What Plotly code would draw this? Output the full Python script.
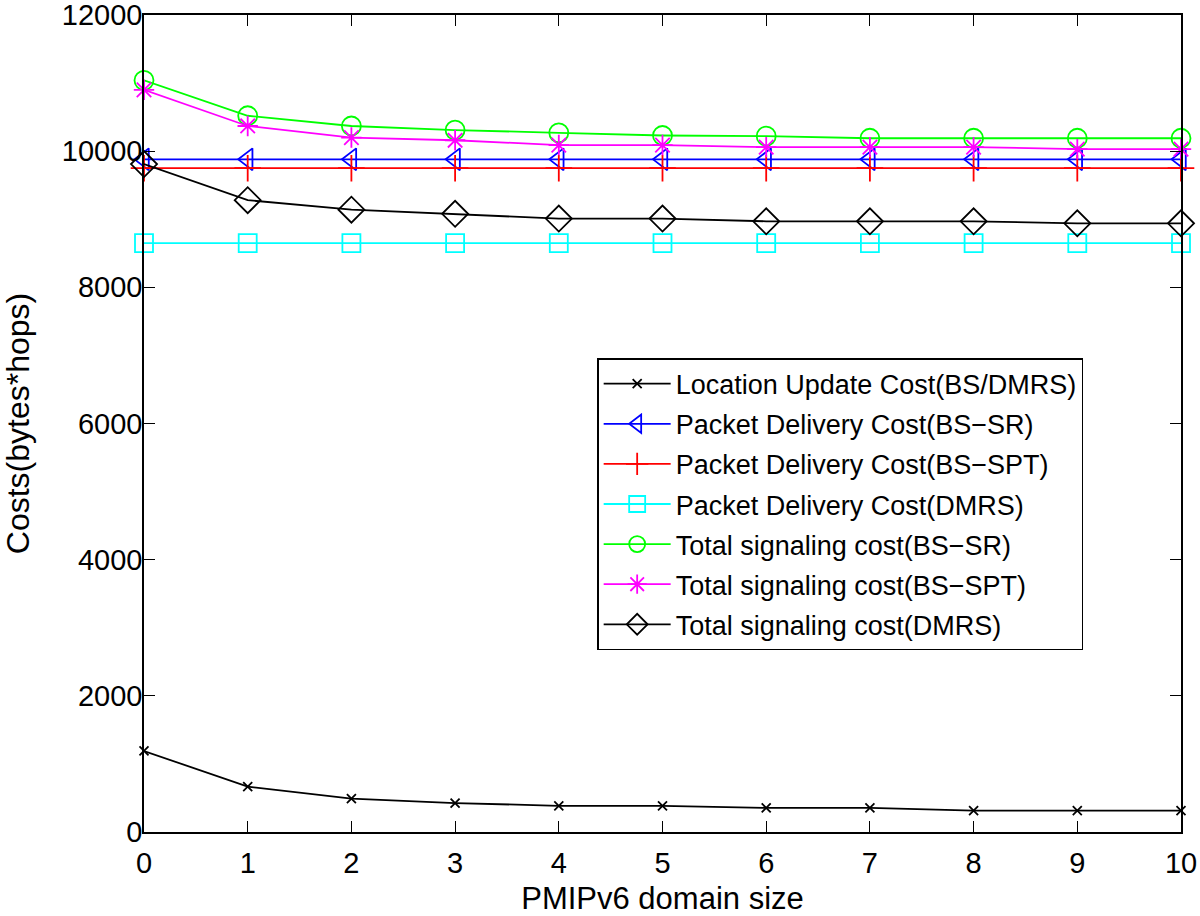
import plotly.graph_objects as go

# PMIPv6 domain size
domain_size = [0, 1, 2, 3, 4, 5, 6, 7, 8, 9, 10]

location_update = [1190, 665, 490, 425, 385, 385, 355, 355, 315, 315, 315]
pd_bs_sr = [9880] * 11
pd_bs_spt = [9750] * 11
pd_dmrs = [8650] * 11
total_bs_sr = [11040, 10520, 10370, 10310, 10270, 10230, 10220, 10190, 10190, 10190, 10190]
total_bs_spt = [10900, 10370, 10200, 10160, 10090, 10090, 10060, 10060, 10060, 10030, 10030]
total_dmrs = [9810, 9280, 9140, 9080, 9010, 9010, 8970, 8970, 8970, 8940, 8940]

series = [
    ("Location Update Cost(BS/DMRS)", location_update, "black", "x-thin-open", 9),
    ("Packet Delivery Cost(BS\u2212SR)", pd_bs_sr, "#0000ff", "triangle-left-open", 19),
    ("Packet Delivery Cost(BS\u2212SPT)", pd_bs_spt, "#ff0000", "cross-thin-open", 19),
    ("Packet Delivery Cost(DMRS)", pd_dmrs, "#00ffff", "square-open", 18),
    ("Total signaling cost(BS\u2212SR)", total_bs_sr, "#00ff00", "circle-open", 19),
    ("Total signaling cost(BS\u2212SPT)", total_bs_spt, "#ff00ff", "asterisk-open", 17),
    ("Total signaling cost(DMRS)", total_dmrs, "black", "diamond-open", 20),
]

fig = go.Figure()
for i, (name, vals, color, symbol, size) in enumerate(series):
    fig.add_trace(go.Scatter(
        x=domain_size, y=vals, name=name, mode="lines+markers",
        legendgroup=f"g{i}",
        line=dict(color=color, width=1.8),
        marker=dict(symbol=symbol, size=size, color=color,
                    line=dict(color=color, width=1.8)),
        cliponaxis=False,
    ))

font = "Liberation Sans, Arial, Helvetica, sans-serif"
axis_common = dict(
    showline=True, linecolor="black", linewidth=1.5, mirror="allticks",
    ticks="inside", ticklen=11, tickwidth=1.2, tickcolor="black",
    showgrid=False, zeroline=False, tickformat="d",
    ticklabeloverflow="allow", automargin=False,
    tickfont=dict(family=font, size=29, color="black"),
)

fig.update_xaxes(range=[0, 10], dtick=1, ticklabelstandoff=4,
                 title=dict(text="PMIPv6 domain size", font=dict(family=font, size=31, color="black"), standoff=11),
                 **axis_common)
fig.update_yaxes(range=[0, 12000], dtick=2000, ticklabelstandoff=-6,
                 title=dict(text="Costs(bytes*hops)", font=dict(family=font, size=32, color="black"), standoff=46),
                 **axis_common)

fig.update_layout(
    width=1200, height=916,
    margin=dict(l=144, r=19, t=15, b=84),
    plot_bgcolor="white", paper_bgcolor="white",
    legend=dict(
        x=0.437, y=0.58, xanchor="left", yanchor="top",
        bgcolor="white", bordercolor="black", borderwidth=1.5,
        font=dict(family=font, size=27, color="black"),
        itemwidth=67, tracegroupgap=2,
    ),
)

# drop the default page margin so the figure sits at the window's corner
fig.write_html("out.html", config={"displayModeBar": False},
               post_script="document.body.style.margin='0';")
